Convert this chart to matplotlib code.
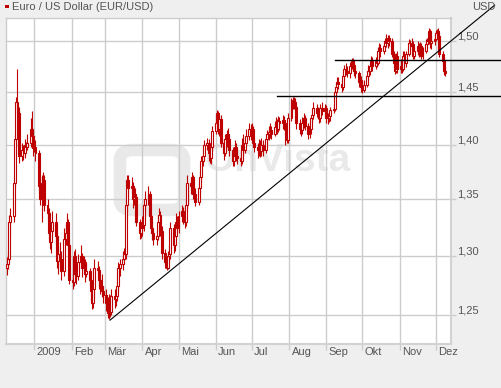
import numpy as np
import pandas as pd
import matplotlib
matplotlib.use("Agg")
import matplotlib.pyplot as plt
import matplotlib.dates as mdates
from matplotlib.patches import Rectangle, FancyBboxPatch
from matplotlib.ticker import FixedLocator, NullLocator
from matplotlib.transforms import ScaledTranslation

plt.rcParams['font.family'] = ['Liberation Sans', 'DejaVu Sans']

# ---------------- data ----------------
title = "Euro / US Dollar (EUR/USD)"
currency = "USD"
start_date = "2008-12-09"
end_date = "2009-12-09"
first_open = 1.290

closes_2008_12 = [1.293, 1.298, 1.330, 1.335,
                  1.365, 1.405, 1.440, 1.430, 1.390,
                  1.395, 1.392, 1.400, 1.398, 1.402,
                  1.415, 1.408, 1.397]
highs_2008_12 = [1.299, 1.305, 1.336, 1.342,
                 1.370, 1.410, 1.445, 1.472, 1.436,
                 1.402, 1.400, 1.405, 1.403, 1.410,
                 1.425, 1.432, 1.412]
lows_2008_12 = [1.284, 1.289, 1.295, 1.318,
                1.330, 1.360, 1.400, 1.420, 1.383,
                1.385, 1.386, 1.388, 1.394, 1.395,
                1.398, 1.403, 1.390]

closes_2009_01 = [1.398, 1.392,
                  1.362, 1.350, 1.365, 1.368, 1.345,
                  1.338, 1.320, 1.312, 1.322, 1.330,
                  1.318, 1.296, 1.302, 1.298, 1.287,
                  1.315, 1.320, 1.330, 1.310, 1.280]
highs_2009_01 = [1.402, 1.404,
                 1.395, 1.370, 1.372, 1.375, 1.372,
                 1.350, 1.342, 1.328, 1.326, 1.340,
                 1.338, 1.322, 1.308, 1.312, 1.305,
                 1.325, 1.328, 1.338, 1.333, 1.315]
lows_2009_01 = [1.393, 1.385,
                1.355, 1.345, 1.330, 1.358, 1.340,
                1.333, 1.315, 1.306, 1.303, 1.318,
                1.310, 1.290, 1.285, 1.292, 1.280,
                1.283, 1.310, 1.315, 1.305, 1.276]

closes_2009_02 = [1.278, 1.300, 1.285, 1.283, 1.295,
                  1.300, 1.290, 1.295, 1.285, 1.287,
                  1.280, 1.270, 1.260, 1.272, 1.290,
                  1.288, 1.280, 1.275, 1.270, 1.267]
highs_2009_02 = [1.286, 1.305, 1.306, 1.292, 1.302,
                 1.310, 1.303, 1.300, 1.298, 1.295,
                 1.290, 1.283, 1.275, 1.278, 1.298,
                 1.296, 1.292, 1.284, 1.285, 1.275]
lows_2009_02 = [1.272, 1.275, 1.280, 1.276, 1.280,
                1.290, 1.282, 1.286, 1.278, 1.282,
                1.275, 1.263, 1.255, 1.256, 1.265,
                1.280, 1.272, 1.268, 1.265, 1.260]

closes_2009_03 = [1.260, 1.252, 1.262, 1.253, 1.266,
                  1.264, 1.266, 1.275, 1.290, 1.293,
                  1.298, 1.302, 1.345, 1.368, 1.360,
                  1.362, 1.350, 1.355, 1.352, 1.330,
                  1.320, 1.325]
highs_2009_03 = [1.272, 1.265, 1.268, 1.267, 1.272,
                 1.272, 1.273, 1.282, 1.295, 1.298,
                 1.305, 1.307, 1.350, 1.372, 1.372,
                 1.370, 1.366, 1.362, 1.360, 1.355,
                 1.333, 1.330]
lows_2009_03 = [1.254, 1.248, 1.247, 1.249, 1.250,
                1.256, 1.258, 1.262, 1.270, 1.283,
                1.288, 1.294, 1.298, 1.340, 1.352,
                1.355, 1.342, 1.345, 1.344, 1.326,
                1.315, 1.316]

closes_2009_04 = [1.327, 1.345, 1.350,
                  1.355, 1.335, 1.325, 1.320, 1.315,
                  1.318, 1.330, 1.336, 1.322, 1.303,
                  1.295, 1.290, 1.300, 1.302, 1.325,
                  1.310, 1.318, 1.330, 1.325]
highs_2009_04 = [1.335, 1.350, 1.358,
                 1.362, 1.358, 1.338, 1.330, 1.324,
                 1.322, 1.336, 1.342, 1.340, 1.326,
                 1.306, 1.300, 1.305, 1.310, 1.330,
                 1.328, 1.322, 1.338, 1.335]
lows_2009_04 = [1.318, 1.322, 1.340,
                1.345, 1.330, 1.320, 1.314, 1.310,
                1.310, 1.314, 1.325, 1.318, 1.298,
                1.290, 1.288, 1.289, 1.295, 1.298,
                1.303, 1.305, 1.314, 1.320]

closes_2009_05 = [1.335,
                  1.340, 1.335, 1.330, 1.345, 1.365,
                  1.362, 1.370, 1.355, 1.355, 1.348,
                  1.360, 1.370, 1.385, 1.390, 1.400,
                  1.402, 1.392, 1.388, 1.398, 1.413]
highs_2009_05 = [1.340,
                 1.345, 1.343, 1.340, 1.350, 1.372,
                 1.368, 1.375, 1.372, 1.362, 1.360,
                 1.365, 1.376, 1.390, 1.396, 1.404,
                 1.406, 1.405, 1.398, 1.402, 1.418]
lows_2009_05 = [1.320,
                1.330, 1.328, 1.325, 1.326, 1.340,
                1.355, 1.358, 1.350, 1.348, 1.344,
                1.345, 1.356, 1.366, 1.380, 1.386,
                1.395, 1.385, 1.383, 1.382, 1.395]

closes_2009_06 = [1.420, 1.430, 1.415, 1.424, 1.402,
                  1.392, 1.405, 1.410, 1.405, 1.395,
                  1.385, 1.390, 1.398, 1.390, 1.388,
                  1.385, 1.400, 1.395, 1.402, 1.408,
                  1.415, 1.410]
highs_2009_06 = [1.428, 1.433, 1.432, 1.428, 1.428,
                 1.405, 1.410, 1.414, 1.416, 1.408,
                 1.398, 1.396, 1.404, 1.402, 1.396,
                 1.393, 1.406, 1.410, 1.407, 1.415,
                 1.420, 1.419]
lows_2009_06 = [1.410, 1.415, 1.410, 1.408, 1.398,
                1.386, 1.390, 1.398, 1.400, 1.390,
                1.380, 1.380, 1.386, 1.385, 1.382,
                1.380, 1.382, 1.390, 1.392, 1.398,
                1.404, 1.404]

closes_2009_07 = [1.415, 1.402, 1.398,
                  1.395, 1.400, 1.394, 1.400, 1.395,
                  1.405, 1.410, 1.412, 1.414, 1.410,
                  1.417, 1.420, 1.415, 1.422, 1.420,
                  1.423, 1.420, 1.410, 1.404, 1.425]
highs_2009_07 = [1.420, 1.418, 1.406,
                 1.402, 1.405, 1.404, 1.406, 1.404,
                 1.410, 1.414, 1.418, 1.420, 1.418,
                 1.422, 1.426, 1.424, 1.427, 1.426,
                 1.428, 1.427, 1.423, 1.415, 1.430]
lows_2009_07 = [1.405, 1.398, 1.393,
                1.388, 1.390, 1.389, 1.390, 1.390,
                1.392, 1.400, 1.404, 1.406, 1.405,
                1.408, 1.412, 1.410, 1.412, 1.414,
                1.415, 1.414, 1.400, 1.402, 1.402]

closes_2009_08 = [1.440, 1.442, 1.440, 1.436, 1.420,
                  1.415, 1.414, 1.420, 1.425, 1.418,
                  1.410, 1.415, 1.425, 1.428, 1.435,
                  1.430, 1.432, 1.425, 1.435, 1.432,
                  1.435]
highs_2009_08 = [1.444, 1.445, 1.445, 1.444, 1.438,
                 1.424, 1.420, 1.426, 1.430, 1.428,
                 1.420, 1.420, 1.428, 1.434, 1.440,
                 1.438, 1.436, 1.434, 1.438, 1.440,
                 1.438]
lows_2009_08 = [1.422, 1.434, 1.434, 1.430, 1.415,
                1.410, 1.408, 1.410, 1.416, 1.414,
                1.405, 1.406, 1.410, 1.420, 1.424,
                1.426, 1.424, 1.420, 1.421, 1.428,
                1.426]

closes_2009_09 = [1.425, 1.425, 1.427, 1.433,
                  1.434, 1.450, 1.455, 1.460, 1.458,
                  1.455, 1.465, 1.472, 1.470, 1.468,
                  1.475, 1.480, 1.476, 1.470, 1.468,
                  1.460, 1.462, 1.455]
highs_2009_09 = [1.437, 1.430, 1.432, 1.436,
                 1.438, 1.455, 1.460, 1.464, 1.464,
                 1.462, 1.470, 1.476, 1.478, 1.475,
                 1.479, 1.483, 1.483, 1.478, 1.474,
                 1.470, 1.466, 1.465]
lows_2009_09 = [1.420, 1.419, 1.421, 1.422,
                1.430, 1.432, 1.446, 1.451, 1.453,
                1.450, 1.452, 1.462, 1.466, 1.464,
                1.463, 1.472, 1.470, 1.465, 1.463,
                1.455, 1.455, 1.450]

closes_2009_10 = [1.452, 1.457,
                  1.465, 1.470, 1.475, 1.480, 1.475,
                  1.480, 1.478, 1.490, 1.493, 1.490,
                  1.495, 1.500, 1.498, 1.503, 1.500,
                  1.487, 1.478, 1.470, 1.485, 1.472]
highs_2009_10 = [1.460, 1.462,
                 1.468, 1.476, 1.478, 1.485, 1.484,
                 1.484, 1.488, 1.494, 1.498, 1.497,
                 1.500, 1.503, 1.507, 1.506, 1.506,
                 1.503, 1.490, 1.482, 1.488, 1.490]
lows_2009_10 = [1.449, 1.450,
                1.455, 1.462, 1.466, 1.472, 1.470,
                1.472, 1.474, 1.476, 1.486, 1.484,
                1.487, 1.490, 1.494, 1.493, 1.495,
                1.484, 1.473, 1.467, 1.468, 1.468]

closes_2009_11 = [1.475, 1.472, 1.485, 1.478, 1.487,
                  1.498, 1.495, 1.497, 1.485, 1.490,
                  1.495, 1.488, 1.495, 1.485, 1.490,
                  1.497, 1.500, 1.510, 1.498, 1.500,
                  1.502]
highs_2009_11 = [1.482, 1.480, 1.490, 1.490, 1.490,
                 1.502, 1.501, 1.503, 1.500, 1.494,
                 1.500, 1.498, 1.499, 1.498, 1.494,
                 1.502, 1.503, 1.513, 1.512, 1.505,
                 1.507]
lows_2009_11 = [1.468, 1.468, 1.470, 1.474, 1.474,
                1.485, 1.490, 1.492, 1.482, 1.482,
                1.486, 1.484, 1.486, 1.482, 1.482,
                1.488, 1.493, 1.497, 1.493, 1.492,
                1.496]

closes_2009_12 = [1.508, 1.510, 1.505, 1.487,
                  1.480, 1.470, 1.468]
highs_2009_12 = [1.511, 1.512, 1.513, 1.508,
                 1.490, 1.484, 1.474]
lows_2009_12 = [1.500, 1.503, 1.500, 1.484,
                1.476, 1.466, 1.465]

y_ticks = [1.25, 1.30, 1.35, 1.40, 1.45, 1.50]
y_tick_labels = ["1,25", "1,30", "1,35", "1,40", "1,45", "1,50"]
month_ticks = ["2009-01-01", "2009-02-01", "2009-03-01", "2009-04-01", "2009-05-01",
               "2009-06-01", "2009-07-01", "2009-08-01", "2009-09-01", "2009-10-01",
               "2009-11-01", "2009-12-01"]
month_labels = ["2009", "Feb", "Mär", "Apr", "Mai", "Jun", "Jul", "Aug", "Sep",
                "Okt", "Nov", "Dez"]

trend_dates = ["2009-03-05", "2010-01-19"]
trend_prices = [1.246, 1.536]
hline1_start, hline1_price = "2009-09-08", 1.481
hline2_start, hline2_price = "2009-07-22", 1.446
hline_end = "2010-01-26"

x_range = ("2008-12-08 11:00", "2009-12-13 17:00")
y_range = (1.2264, 1.523)

# ---------------- build ----------------
closes = (closes_2008_12 + closes_2009_01 + closes_2009_02 + closes_2009_03 +
          closes_2009_04 + closes_2009_05 + closes_2009_06 + closes_2009_07 +
          closes_2009_08 + closes_2009_09 + closes_2009_10 + closes_2009_11 +
          closes_2009_12)
highs = (highs_2008_12 + highs_2009_01 + highs_2009_02 + highs_2009_03 +
         highs_2009_04 + highs_2009_05 + highs_2009_06 + highs_2009_07 +
         highs_2009_08 + highs_2009_09 + highs_2009_10 + highs_2009_11 +
         highs_2009_12)
lows = (lows_2008_12 + lows_2009_01 + lows_2009_02 + lows_2009_03 +
        lows_2009_04 + lows_2009_05 + lows_2009_06 + lows_2009_07 +
        lows_2009_08 + lows_2009_09 + lows_2009_10 + lows_2009_11 +
        lows_2009_12)
dates = pd.bdate_range(start_date, end_date)
n = min(len(dates), len(closes), len(highs), len(lows))
dates = dates[:n]
closes = np.array(closes[:n])
highs = np.array(highs[:n])
lows = np.array(lows[:n])
opens = np.concatenate([[first_open], closes[:-1]])

RED = "#bf0000"
GRID = "#cccccc"
TXT = "#555555"

fig = plt.figure(figsize=(5.01, 3.88), dpi=100, facecolor="#efefef")
W, H = 501, 388
ax = fig.add_axes([6 / W, 44 / H, 445 / W, 326 / H])
ax.set_facecolor("white")
ax.set_yscale("log")
ax.set_ylim(*y_range)
ax.set_xlim(mdates.date2num(pd.Timestamp(x_range[0])),
            mdates.date2num(pd.Timestamp(x_range[1])))

# watermark
ax.text((277 - 6) / 445, 1 - (161 - 18) / 326, "OnVista", transform=ax.transAxes,
        fontsize=28, fontweight="bold", color="#e9e9e9", ha="center", va="center", zorder=0.5)
logo = FancyBboxPatch(((120 - 6) / 445, 1 - (210 - 18) / 326), 64 / 445, 60 / 326,
                      boxstyle="round,pad=0,rounding_size=0.03", transform=ax.transAxes,
                      facecolor="none", edgecolor="#e9e9e9", lw=9, zorder=0.5)
ax.add_patch(logo)

# candles
w = 1.6
xs = mdates.date2num(dates)
for x, o, c, hi, lo in zip(xs, opens, closes, highs, lows):
    hi = max(hi, o, c)
    lo = min(lo, o, c)
    ax.plot([x, x], [lo, hi], color=RED, lw=0.8, zorder=3, solid_capstyle="butt")
    if c >= o:
        ax.add_patch(Rectangle((x - w / 2, o), w, max(c - o, 1e-4), facecolor="white",
                               edgecolor=RED, lw=0.8, zorder=4))
    else:
        ax.add_patch(Rectangle((x - w / 2, c), w, o - c, facecolor=RED,
                               edgecolor=RED, lw=0.8, zorder=4))

# trend lines
td = [mdates.date2num(pd.Timestamp(t)) for t in trend_dates]
ax.plot(td, trend_prices, color="black", lw=0.8, clip_on=False, zorder=5)
he = mdates.date2num(pd.Timestamp(hline_end))
ax.plot([mdates.date2num(pd.Timestamp(hline1_start)), he], [hline1_price] * 2,
        color="black", lw=1.0, clip_on=False, zorder=5)
ax.plot([mdates.date2num(pd.Timestamp(hline2_start)), he], [hline2_price] * 2,
        color="black", lw=1.0, clip_on=False, zorder=5)

# axes styling
ax.yaxis.set_major_locator(FixedLocator(y_ticks))
ax.yaxis.set_minor_locator(NullLocator())
ax.set_yticklabels(y_tick_labels)
ax.yaxis.tick_right()
mt = [mdates.date2num(pd.Timestamp(m)) for m in month_ticks]
ax.xaxis.set_major_locator(FixedLocator(mt))
ax.xaxis.set_minor_locator(NullLocator())
ax.set_xticklabels(month_labels)
ax.tick_params(axis="y", which="both", length=3.4, width=1, color=GRID, pad=1.2,
               labelsize=8, labelcolor=TXT)
ax.tick_params(axis="x", which="both", length=4.3, width=1, color=GRID, pad=0,
               labelsize=8, labelcolor=TXT)
for lab in ax.get_yticklabels():
    lab.set_verticalalignment("baseline")
    lab.set_transform(lab.get_transform() + ScaledTranslation(0, 1.5 / 100, fig.dpi_scale_trans))
for lab in ax.get_xticklabels():
    lab.set_horizontalalignment("left")
    lab.set_transform(lab.get_transform() + ScaledTranslation(2.4 / 100, 3 / 100, fig.dpi_scale_trans))

ax.grid(True, color=GRID, lw=1)
ax.set_axisbelow(True)
for s in ax.spines.values():
    s.set_color(GRID)
    s.set_linewidth(1)
ax.spines["right"].set_color("#d2d2d2")
ax.spines["right"].set_linewidth(1.5)
ax.spines["bottom"].set_color("#d2d2d2")
ax.spines["bottom"].set_linewidth(1.5)

# title & currency
fig.add_artist(Rectangle((5 / W, 1 - 8 / H), 3.5 / W, 3.5 / H, transform=fig.transFigure,
                         facecolor="#c00000", edgecolor="none"))
fig.text(12 / W, 1 - 6.5 / H, title, fontsize=8, color=TXT, va="center", ha="left")
fig.text(484 / W, 1 - 6.5 / H, currency, fontsize=8, color=TXT, va="center", ha="center")

fig.savefig("out.png", dpi=100, facecolor=fig.get_facecolor())
